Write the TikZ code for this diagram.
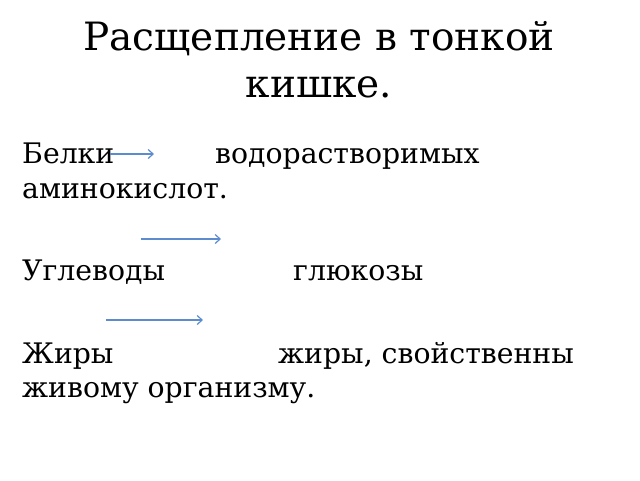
\documentclass[tikz,border=0pt]{standalone}
\usepackage{fontspec}
\setmainfont{DejaVu Serif}
\usetikzlibrary{arrows.meta}
\definecolor{arrblue}{RGB}{92,140,205}
\tikzset{title/.style = {anchor=base, inner sep=0pt, font=\fontsize{39}{47}\selectfont},
         line/.style = {anchor=base west, inner sep=0pt, font=\fontsize{28.3}{35}\selectfont},
         arr/.style = {draw=arrblue, line width=1.2pt, -{Straight Barb[length=5pt,width=9pt]}}}

\begin{document}
\begin{tikzpicture}[x=1pt,y=-1pt]
    \useasboundingbox (0,0) rectangle (640,480);
    \node[title](t1)at(319,50){Расщепление в тонкой};
    \node[title](t2)at(319,97){кишке.};
    \node[line](bel)at(22,163){Белки};
    \node[line](vod)at(215,163){водорастворимых};
    \node[line](amin)at(22,198){аминокислот.};
    \node[line](ugl)at(22,280){Углеводы};
    \node[line](glu)at(293,280){глюкозы};
    \node[line](zh)at(22,363){Жиры};
    \node[line](zh2)at(278,363){жиры, свойственны};
    \node[line](zhiv)at(22,397){живому организму.};
    \coordinate(a1)at(110,154); \coordinate(b1)at(154,154);
    \coordinate(a2)at(141,239); \coordinate(b2)at(221,239);
    \coordinate(a3)at(106,320); \coordinate(b3)at(203,320);
    \draw[arr](a1)--(b1);
    \draw[arr](a2)--(b2);
    \draw[arr](a3)--(b3);
\end{tikzpicture}
\end{document}
